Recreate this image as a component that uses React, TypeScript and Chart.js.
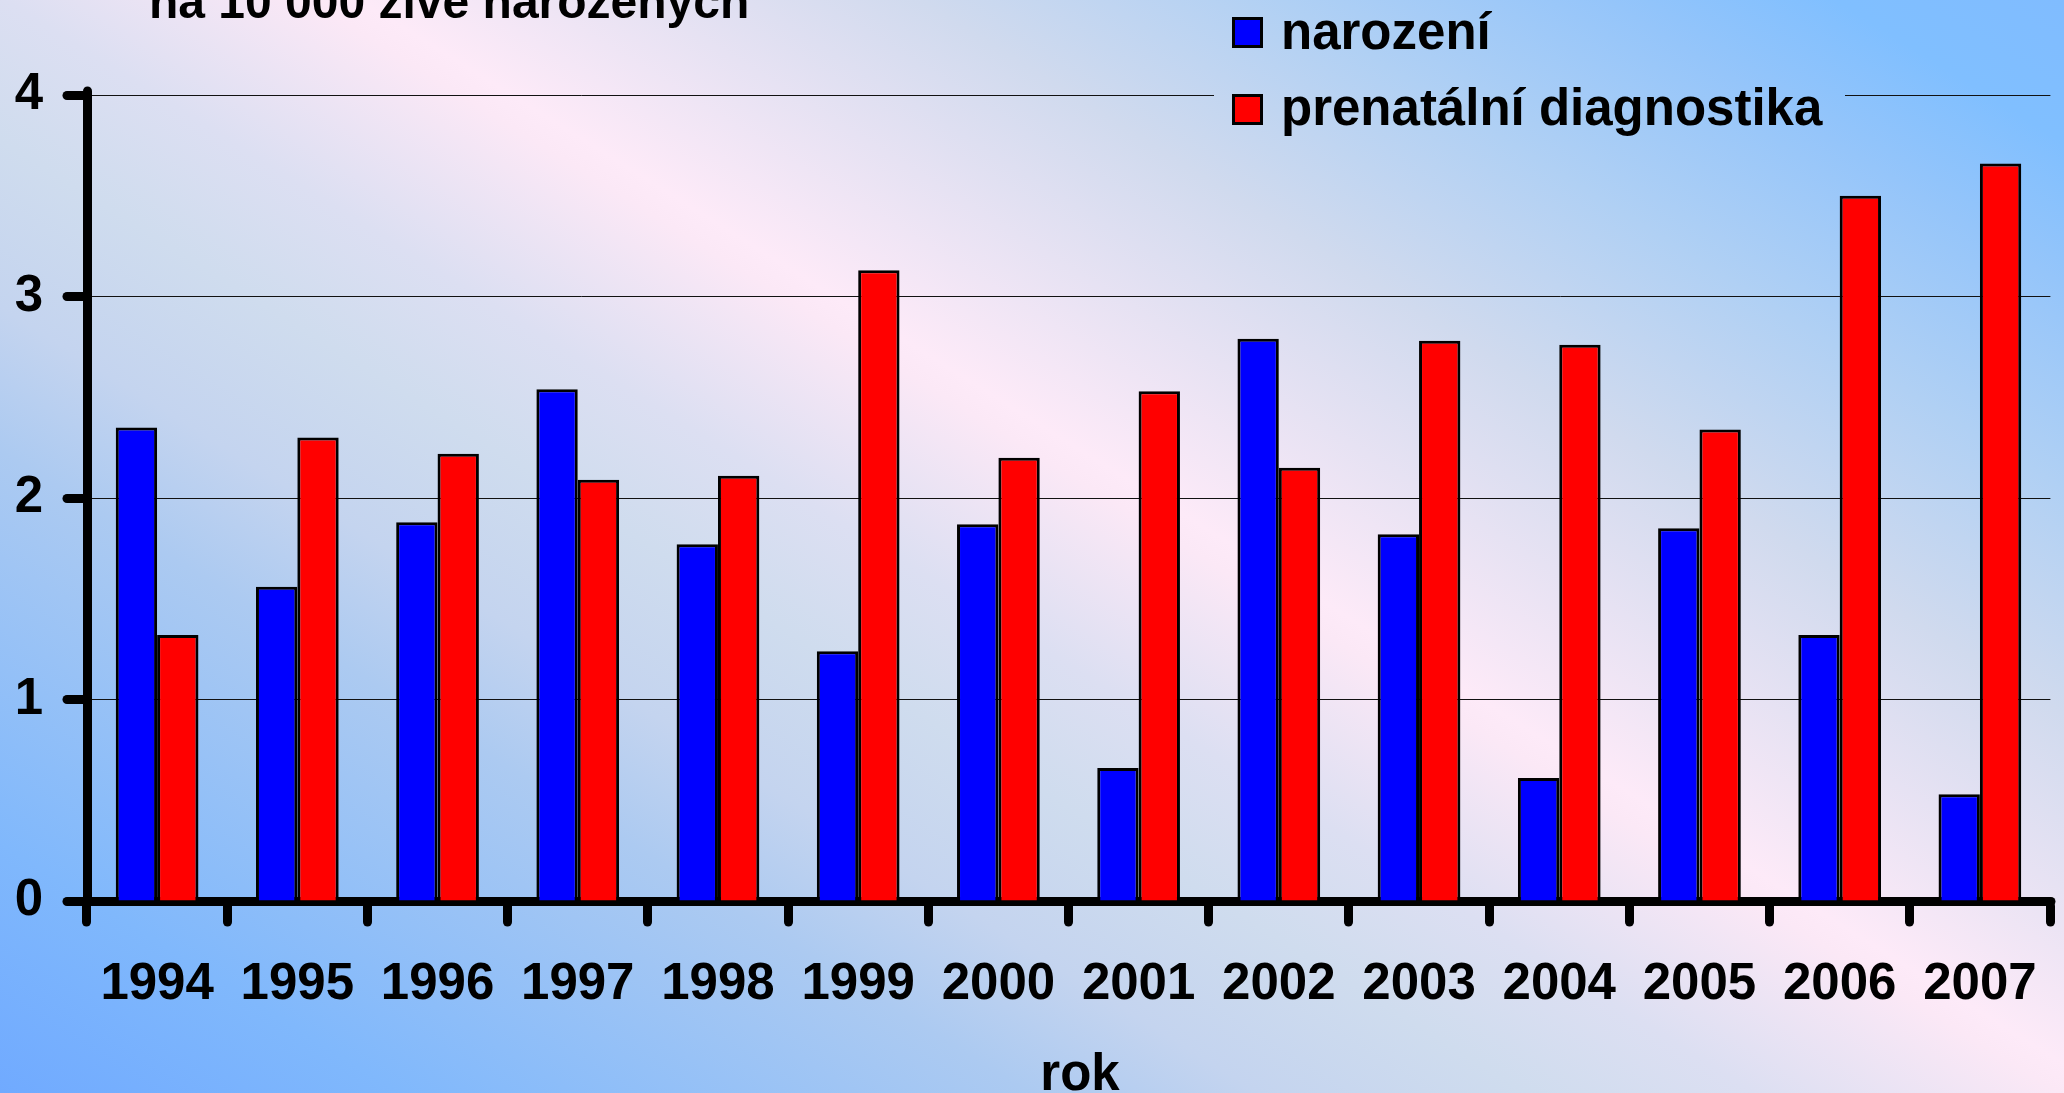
import React, { useEffect, useRef } from "react";
import { Chart, registerables } from "chart.js";

Chart.register(...registerables);

const years = ["1994", "1995", "1996", "1997", "1998", "1999", "2000", "2001", "2002", "2003", "2004", "2005", "2006", "2007"];
const narozeni = [2.35, 1.56, 1.88, 2.54, 1.77, 1.24, 1.87, 0.66, 2.79, 1.82, 0.61, 1.85, 1.32, 0.53];
const prenatalni = [1.32, 2.30, 2.22, 2.09, 2.11, 3.13, 2.20, 2.53, 2.15, 2.78, 2.76, 2.34, 3.50, 3.66];
const seriesLabels = ["narození", "prenatální diagnostika"];
const seriesColors = ["#0000ff", "#ff0000"];
const titleText = "na 10 000 živě narozených";
const xTitle = "rok";

const FONT = "'Liberation Sans', Arial, sans-serif";

function makeGradient(ctx: CanvasRenderingContext2D) {
  const g = ctx.createLinearGradient(0, 1093, 1070, -621);
  g.addColorStop(0, "#70aaff");
  g.addColorStop(0.105, "#80b8fc");
  g.addColorStop(0.27, "#accaf1");
  g.addColorStop(0.33, "#c4d4ef");
  g.addColorStop(0.4, "#cfdcee");
  g.addColorStop(0.46, "#dcdff2");
  g.addColorStop(0.54, "#fbe8f6");
  g.addColorStop(0.553, "#fdeaf8");
  g.addColorStop(0.7, "#d0daee");
  g.addColorStop(0.795, "#b0d0f4");
  g.addColorStop(0.88, "#95c5fa");
  g.addColorStop(0.94, "#80bfff");
  g.addColorStop(1, "#80bcff");
  return g;
}

const bgPlugin = {
  id: "bgPlugin",
  beforeDraw(chart: any) {
    const ctx = chart.ctx as CanvasRenderingContext2D;
    ctx.save();
    ctx.fillStyle = makeGradient(ctx);
    ctx.fillRect(0, 0, chart.width, chart.height);
    ctx.restore();
    ctx.lineCap = "round";
  },
};

const overlayPlugin = {
  id: "overlayPlugin",
  afterDraw(chart: any) {
    const ctx = chart.ctx as CanvasRenderingContext2D;
    ctx.save();
    // legend box background (hides gridline)
    ctx.fillStyle = makeGradient(ctx);
    ctx.fillRect(1214, 0, 631, 140);
    const rows = [
      { top: 17, base: 49 },
      { top: 94, base: 125 },
    ];
    ctx.font = `bold 51px ${FONT}`;
    ctx.textBaseline = "alphabetic";
    ctx.textAlign = "left";
    rows.forEach((r, i) => {
      ctx.fillStyle = seriesColors[i];
      ctx.fillRect(1232, r.top, 31, 31);
      ctx.lineWidth = 3;
      ctx.strokeStyle = "#000";
      ctx.strokeRect(1233.5, r.top + 1.5, 28, 28);
      ctx.fillStyle = "#000";
      ctx.fillText(seriesLabels[i], 1281, r.base);
    });
    // title (partially cut at top)
    ctx.font = `bold 48px ${FONT}`;
    ctx.fillText(titleText, 149, 18);
    // x axis title
    ctx.font = `bold 51px ${FONT}`;
    ctx.textAlign = "center";
    ctx.fillText(xTitle, 1080, 1090);
    ctx.restore();
  },
};

export default function App() {
  const canvasRef = useRef<HTMLCanvasElement | null>(null);

  useEffect(() => {
    document.body.style.margin = "0";
    const canvas = canvasRef.current;
    if (!canvas) return;
    const tickFont = { family: FONT, size: 51, weight: "bold" as const };
    const chart = new Chart(canvas, {
      type: "bar",
      data: {
        labels: years,
        datasets: [
          {
            label: seriesLabels[0],
            data: narozeni,
            backgroundColor: seriesColors[0],
            borderColor: "#000",
            borderWidth: 3,
            categoryPercentage: 0.59,
            barPercentage: 1,
          },
          {
            label: seriesLabels[1],
            data: prenatalni,
            backgroundColor: seriesColors[1],
            borderColor: "#000",
            borderWidth: 3,
            categoryPercentage: 0.59,
            barPercentage: 1,
          },
        ],
      },
      options: {
        animation: false,
        responsive: true,
        maintainAspectRatio: false,
        devicePixelRatio: 1,
        layout: { padding: { top: 95, right: 14, left: 0, bottom: 0 } },
        plugins: {
          legend: { display: false },
          tooltip: { enabled: false },
          title: { display: false },
        },
        scales: {
          x: {
            type: "category",
            offset: true,
            grid: {
              display: true,
              offset: true,
              drawOnChartArea: false,
              drawTicks: true,
              tickLength: 21,
              tickWidth: 9,
              tickColor: "#000",
            },
            border: { display: true, color: "#000", width: 9 },
            ticks: {
              font: tickFont,
              color: "#000",
              padding: 32,
              maxRotation: 0,
              autoSkip: false,
            },
            afterFit: (scale: any) => {
              scale.height = 192;
              scale.paddingLeft = 0;
              scale.paddingRight = 0;
            },
          },
          y: {
            min: 0,
            max: 4,
            grid: {
              color: "#111",
              lineWidth: 1,
              drawTicks: true,
              tickLength: 20,
              tickWidth: 9,
              tickColor: "#000",
            },
            border: { display: true, color: "#000", width: 9 },
            ticks: {
              stepSize: 1,
              font: tickFont,
              color: "#000",
              padding: 24,
            },
            afterFit: (scale: any) => {
              scale.width = 87;
              scale.paddingTop = 0;
              scale.paddingBottom = 0;
            },
          },
        },
      },
      plugins: [bgPlugin, overlayPlugin],
    });
    return () => chart.destroy();
  }, []);

  return (
    <div style={{ width: 2064, height: 1093, position: "relative", overflow: "hidden" }}>
      <canvas ref={canvasRef} />
    </div>
  );
}
